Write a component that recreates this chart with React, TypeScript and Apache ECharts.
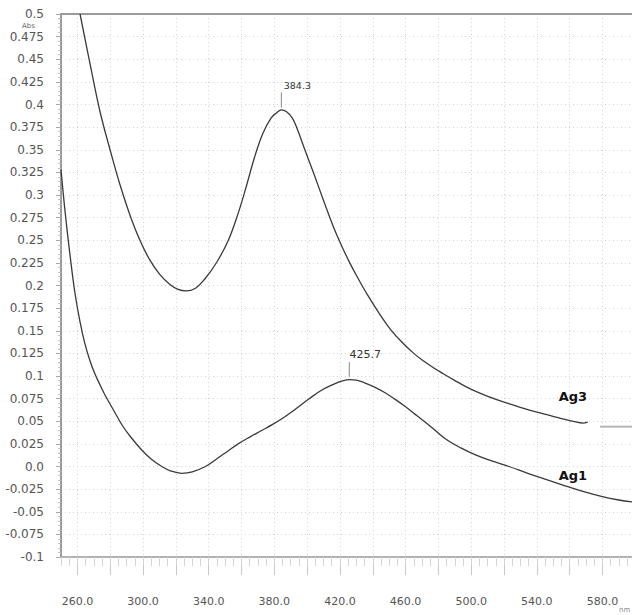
import React, { useEffect, useRef } from "react";
import * as echarts from "echarts";

// Ag3 spectrum (wavelength nm, absorbance)
const ag3Wavelength = [261.6, 267.7, 273.8, 279.9, 286.0, 292.0, 298.1, 304.2, 310.3, 316.4, 321.0, 326.2, 332, 338, 345, 352, 358, 363, 368, 373, 378, 381.5, 384.3, 387.5, 391, 394, 398, 404, 410, 416, 421, 426, 431, 437, 444, 451, 458, 465, 471, 477.5, 483, 489.6, 497, 506, 516, 526.3, 536, 546.7, 555, 563, 568, 571];
const ag3Absorbance = [0.5, 0.445, 0.392, 0.35, 0.311, 0.278, 0.25, 0.228, 0.212, 0.201, 0.196, 0.194, 0.197, 0.208, 0.226, 0.25, 0.28, 0.31, 0.342, 0.368, 0.385, 0.391, 0.394, 0.392, 0.385, 0.373, 0.353, 0.324, 0.294, 0.265, 0.244, 0.225, 0.208, 0.189, 0.169, 0.151, 0.137, 0.125, 0.1165, 0.1085, 0.1025, 0.0955, 0.088, 0.0805, 0.0735, 0.0675, 0.062, 0.057, 0.053, 0.0495, 0.048, 0.049];

// Ag3 grey tail segment
const ag3TailWavelength = [578.5, 598];
const ag3TailAbsorbance = [0.044, 0.044];

// Ag1 spectrum
const ag1Wavelength = [250, 252.4, 255.5, 258.5, 261.6, 264.6, 267.7, 270.7, 273.8, 276.8, 279.9, 283.5, 287, 292, 299.2, 304.9, 311.4, 317, 323.6, 330, 338, 345, 352, 358, 365, 372, 379, 386, 393, 401, 409, 417, 422, 425.7, 430, 435, 440.8, 447, 453, 460, 467, 475.4, 484, 493.7, 503, 512, 523, 534.5, 545, 555, 567, 579.3, 590, 598];
const ag1Absorbance = [0.328, 0.283, 0.2335, 0.1917, 0.1597, 0.1354, 0.1166, 0.1022, 0.0901, 0.079, 0.0691, 0.0575, 0.0464, 0.0337, 0.0182, 0.0083, 0.0, -0.005, -0.0075, -0.006, 0.0, 0.0085, 0.0175, 0.025, 0.0325, 0.0395, 0.0465, 0.0545, 0.0635, 0.0745, 0.0845, 0.0915, 0.0948, 0.096, 0.0955, 0.0925, 0.088, 0.082, 0.075, 0.066, 0.056, 0.044, 0.031, 0.0205, 0.0125, 0.0065, 0.0, -0.0075, -0.014, -0.02, -0.027, -0.033, -0.037, -0.039];

// Peak annotations
const ag3PeakWavelength = 384.3;
const ag3PeakAbsorbance = 0.394;
const ag1PeakWavelength = 425.7;
const ag1PeakAbsorbance = 0.096;

// Curve name labels (position in data units)
const ag3LabelPos = [562, 0.077];
const ag1LabelPos = [562, -0.0094];

// Axis values
const xLabelValues = [260, 300, 340, 380, 420, 460, 500, 540, 580];
const xMajorTickValues = [260, 280, 300, 320, 340, 360, 380, 400, 420, 440, 460, 480, 500, 520, 540, 560, 580];
const xMin = 250;
const xMax = 598;
const xMinorStep = 5;
const yMin = -0.1;
const yMax = 0.5;
const yInterval = 0.025;

const FONT = "DejaVu Sans";

function pairs(xs: number[], ys: number[]) {
  return xs.map((x, i) => [x, ys[i]]);
}

function peakMark(wl: number, abs: number, text: string, fontSize: number) {
  return {
    coord: [wl, abs],
    symbol: "rect",
    symbolSize: [1, 15],
    symbolOffset: [0, -10],
    itemStyle: { color: "#888" },
    label: {
      show: true,
      position: "top",
      distance: 2,
      offset: [16, 0],
      formatter: text,
      color: "#333",
      fontSize,
      fontFamily: FONT,
    },
  };
}

function nameMark(pos: number[], text: string) {
  return {
    coord: pos,
    symbol: "circle",
    symbolSize: 1,
    itemStyle: { color: "rgba(0,0,0,0)" },
    label: {
      show: true,
      position: "inside",
      formatter: text,
      color: "#111",
      fontSize: 13,
      fontWeight: "bold",
      fontFamily: FONT,
    },
  };
}

export default function App() {
  const ref = useRef<HTMLDivElement>(null);
  useEffect(() => {
    if (!ref.current) return;
    const chart = echarts.init(ref.current, null, { renderer: "svg" });
    const minorTicks: number[] = [];
    for (let v = xMin; v <= xMax; v += xMinorStep) minorTicks.push(v);

    chart.setOption({
      animation: false,
      backgroundColor: "#fff",
      grid: { left: 61, right: 0, top: 14, bottom: 58, containLabel: false },
      xAxis: [
        {
          type: "value",
          min: xMin,
          max: xMax,
          position: "bottom",
          axisLine: { show: true, onZero: false, lineStyle: { color: "#9a9a9a", width: 1.5 } },
          axisTick: { show: true, customValues: xMajorTickValues, length: 18, lineStyle: { color: "#c8c8c8" } },
          axisLabel: {
            customValues: xLabelValues,
            formatter: (v: number) => v.toFixed(1),
            margin: 39,
            color: "#555",
            fontSize: 11,
            fontFamily: FONT,
          },
          splitLine: { show: true, lineStyle: { color: "#d4d4d4", type: [1, 3], width: 1 } },
        },
        {
          type: "value",
          min: xMin,
          max: xMax,
          position: "bottom",
          axisLine: { show: false, onZero: false },
          axisTick: { show: true, customValues: minorTicks, length: 9, lineStyle: { color: "#d6d6d6" } },
          axisLabel: { show: false },
          splitLine: { show: false },
        },
        {
          type: "value",
          min: xMin,
          max: xMax,
          position: "top",
          axisLine: { show: true, onZero: false, lineStyle: { color: "#9a9a9a", width: 2 } },
          axisTick: { show: false },
          axisLabel: { show: false },
          splitLine: { show: false },
        },
      ],
      yAxis: {
        type: "value",
        min: yMin,
        max: yMax,
        interval: yInterval,
        axisLine: { show: true, onZero: false, lineStyle: { color: "#9a9a9a", width: 2 } },
        axisTick: { show: true, length: 5, lineStyle: { color: "#aaa" } },
        minorTick: { show: true, splitNumber: 5, length: 3, lineStyle: { color: "#c0c0c0" } },
        axisLabel: {
          margin: 17,
          color: "#555",
          fontSize: 12,
          fontFamily: FONT,
          formatter: (v: number) => {
            const r = Math.round(v * 1000) / 1000;
            if (r === 0) return "0.0";
            return String(r);
          },
        },
        splitLine: { show: true, lineStyle: { color: "#d4d4d4", type: [1, 3], width: 1 } },
      },
      series: [
        {
          name: "Ag3",
          type: "line",
          xAxisIndex: 0,
          data: pairs(ag3Wavelength, ag3Absorbance),
          smooth: 0.4,
          showSymbol: false,
          lineStyle: { color: "#3a3a3a", width: 1.3 },
          markPoint: {
            data: [peakMark(ag3PeakWavelength, ag3PeakAbsorbance, "384.3", 9.5), nameMark(ag3LabelPos, "Ag3")],
          },
        },
        {
          name: "Ag3 tail",
          type: "line",
          xAxisIndex: 0,
          data: pairs(ag3TailWavelength, ag3TailAbsorbance),
          showSymbol: false,
          lineStyle: { color: "#b5b5b5", width: 2 },
        },
        {
          name: "Ag1",
          type: "line",
          xAxisIndex: 0,
          data: pairs(ag1Wavelength, ag1Absorbance),
          smooth: 0.4,
          showSymbol: false,
          lineStyle: { color: "#3a3a3a", width: 1.3 },
          markPoint: {
            data: [peakMark(ag1PeakWavelength, ag1PeakAbsorbance, "425.7", 11), nameMark(ag1LabelPos, "Ag1")],
          },
        },
      ],
      graphic: [
        { type: "text", left: 22, top: 22, style: { text: "Abs", fontSize: 7, fill: "#666", fontFamily: FONT } },
        { type: "text", left: 619, top: 606, style: { text: "nm", fontSize: 7, fill: "#888", fontFamily: FONT } },
      ],
    });
    return () => chart.dispose();
  }, []);
  return <div ref={ref} style={{ position: "fixed", left: 0, top: 0, width: 632, height: 615 }} />;
}
